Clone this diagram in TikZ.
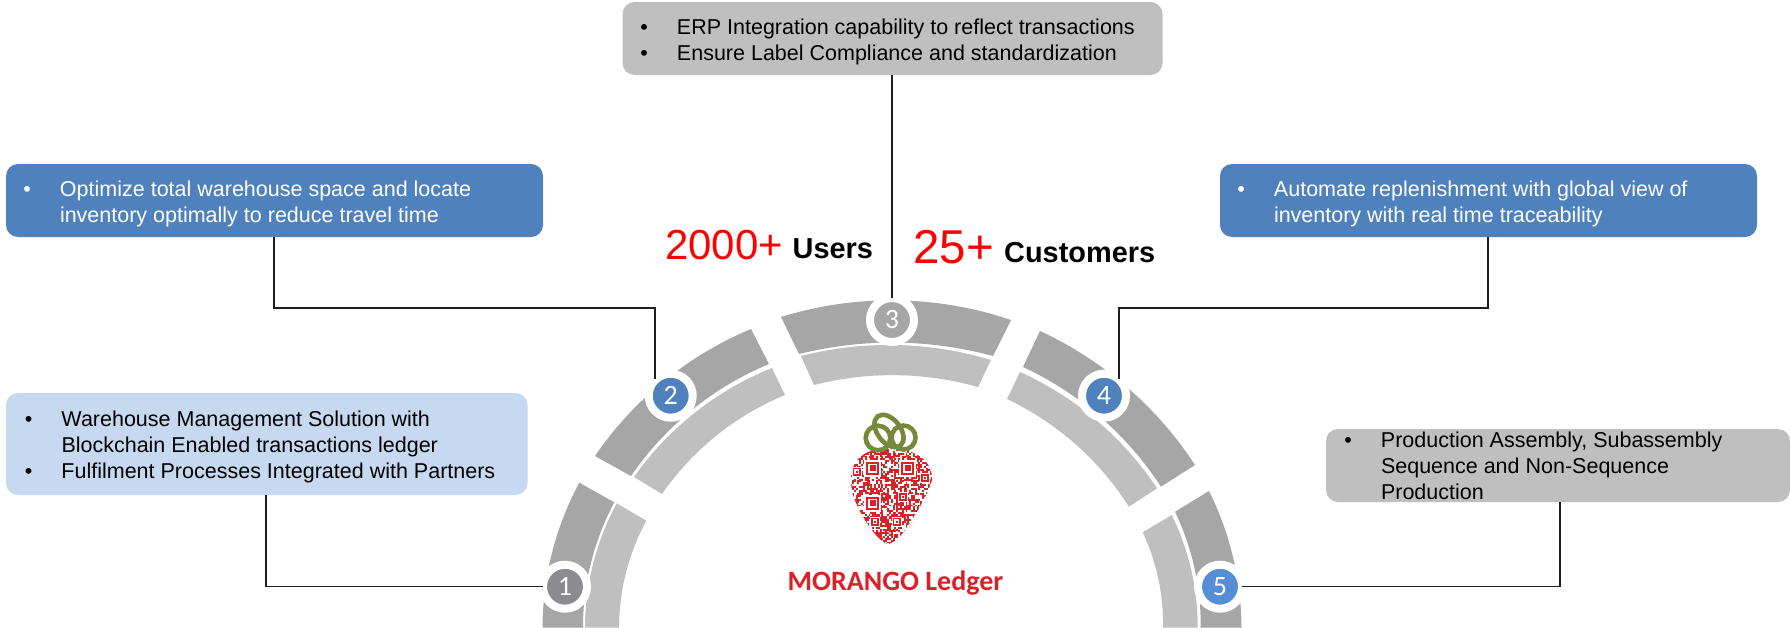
\documentclass[tikz,border=0pt]{standalone}
\usepackage{fontspec}
\setmainfont{Liberation Sans}
\newfontfamily\carl{Carlito}
\definecolor{segdark}{HTML}{A6A6A6}
\definecolor{seglight}{HTML}{BFBFBF}
\definecolor{bluebox}{HTML}{4F81BD}
\definecolor{paleblue}{HTML}{C6D9F1}
\definecolor{greybox}{HTML}{BFBFBF}
\definecolor{numone}{HTML}{8C8B92}
\definecolor{numfive}{HTML}{558ED5}
\definecolor{logored}{HTML}{DB2128}
\definecolor{olive}{HTML}{76883A}
\newcommand{\seg}[7]{\fill[#1] #2 to[bend left=#6,looseness=.87] #3 -- #4 to[bend right=#7,looseness=.87] #5 -- cycle;}
\newcommand{\bul}{\llap{•\hspace{29pt}}}
\newcommand{\finder}[2]{%
  \fill[white] (#1-8.6,#2-8.6) rectangle (#1+8.6,#2+8.6);
  \draw[logored,line width=1.9] (#1-5.6,#2-5.6) rectangle (#1+5.6,#2+5.6);
  \fill[logored] (#1-2.9,#2-2.9) rectangle (#1+2.9,#2+2.9);}
\newcommand{\smallring}[2]{%
  \fill[white] (#1-5,#2-5) rectangle (#1+5,#2+5);
  \draw[logored,line width=1.8] (#1-3.2,#2-3.2) rectangle (#1+3.2,#2+3.2);
  \fill[logored] (#1-1,#2-1) rectangle (#1+1,#2+1);}
\tikzset{
  boxnode/.style={rounded corners=12pt,inner sep=0pt,outer sep=0pt},
  txt/.style={anchor=base west,inner sep=0pt,outer sep=0pt,align=left,font=\fontsize{21.5}{25.9}\selectfont},
  numnode/.style={circle,draw=white,line width=8pt,minimum size=44pt,inner sep=0pt,outer sep=0pt,text=white,font=\carl\fontsize{28}{28}\selectfont},
  conn/.style={line width=1.2pt,draw=black!88},
  shortfar/.style={shorten >=22pt},
  shortnear/.style={shorten >=16.7pt},
  bigred/.style={anchor=base west,inner sep=0pt,text=red},
  boldblack/.style={anchor=base west,inner sep=0pt,font=\bfseries\fontsize{28.9}{30}\selectfont},
}
\begin{document}
\begin{tikzpicture}[x=1pt,y=-1pt]
\useasboundingbox (0,0) rectangle (1791,627);
% dark outer segments
\seg{segdark}{(542.5,627.5)}{(579.3,482.7)}{(614.3,502.3)}{(583,627.5)}{14}{14}
\seg{segdark}{(595,456)}{(751,329)}{(769,364)}{(631,476)}{16.5}{16.5}
\seg{segdark}{(781,317)}{(1011,320)}{(993,356)}{(799,354)}{18}{14.5}
\seg{segdark}{(1040,331)}{(1195,465)}{(1161,486.7)}{(1023,367)}{16}{16}
\seg{segdark}{(1209,491)}{(1241.5,627.5)}{(1200.7,627.5)}{(1175,511.7)}{13}{13}
% light inner segments
\seg{seglight}{(585,627.5)}{(616.7,503.3)}{(646.3,520.7)}{(619,627.5)}{14}{14}
\seg{seglight}{(634,477)}{(772,368)}{(785,395)}{(662,494)}{16.5}{16.5}
\seg{seglight}{(801,356)}{(991,360)}{(978,387)}{(814,385)}{15.5}{15}
\seg{seglight}{(1020,372)}{(1157,488.3)}{(1129,506.7)}{(1007,399)}{16}{16}
\seg{seglight}{(1171.7,515)}{(1197.7,627.5)}{(1163,627.5)}{(1142.7,532.3)}{13}{13}
% boxes
\node[boxnode,fill=bluebox,minimum width=537pt,minimum height=73pt] (b2) at (274.5,200.5) {};
\node[boxnode,fill=paleblue,minimum width=521.5pt,minimum height=102pt] (b1) at (266.75,444) {};
\node[boxnode,fill=greybox,minimum width=540pt,minimum height=73pt] (b3) at (892.5,38.5) {};
\node[boxnode,fill=bluebox,minimum width=537pt,minimum height=73pt] (b4) at (1488.5,200.5) {};
\node[boxnode,fill=greybox,minimum width=464pt,minimum height=73pt] (b5) at (1558,465.5) {};
% numbered circles
\node[numnode,fill=numone] (c1) at (565,586.7) {1};
\node[numnode,fill=bluebox] (c2) at (670.7,395.7) {2};
\node[numnode,fill=segdark] (c3) at (892,320) {3};
\node[numnode,fill=bluebox] (c4) at (1104,395.7) {4};
\node[numnode,fill=numfive] (c5) at (1220,586.7) {5};
% connectors
\coordinate (k1) at (266,586.7);
\coordinate (k2) at (274,308);
\coordinate (k4) at (1488,308);
\coordinate (k5) at (1560,586.7);
\coordinate (e2) at (655,395.7);
\coordinate (e4) at (1119,395.7);
\draw[conn,shortfar] (k1 |- b1.south) -- (k1) -- (c1.center);
\draw[conn,shortnear] (k2 |- b2.south) -- (k2) -- (k2 -| e2) -- (e2);
\draw[conn,shortfar] (c3.center |- b3.south) -- (c3.center);
\draw[conn,shortnear] (k4 |- b4.south) -- (k4) -- (k4 -| e4) -- (e4);
\draw[conn,shortfar] (k5 |- b5.south) -- (k5) -- (c5.center);
% box texts
\node[txt,text=white] (t2) at (60,222) {\bul Optimize total warehouse space and locate\\inventory optimally to reduce travel time};
\node[txt] (t1) at (61.5,478.5) {\bul Warehouse Management Solution with\\Blockchain Enabled transactions ledger\\\bul Fulfilment Processes Integrated with Partners};
\node[txt] (t3) at (677,60.5) {\bul ERP Integration capability to reflect transactions\\\bul Ensure Label Compliance and standardization};
\node[txt,text=white] (t4) at (1274,222) {\bul Automate replenishment with global view of\\inventory with real time traceability};
\node[txt] (t5) at (1381,499.5) {\bul Production Assembly, Subassembly\\Sequence and Non-Sequence\\Production};
% figures
\node[bigred,font=\fontsize{42}{44}\selectfont] (n2000) at (665,259) {2000+};
\node[boldblack] (users) at (792.5,258.7) {Users};
\node[bigred,font=\fontsize{47.5}{48}\selectfont] (n25) at (913,263) {25+};
\node[boldblack] (cust) at (1004,262.7) {Customers};
\node[anchor=base,inner sep=0pt,text=logored,font=\carl\bfseries\fontsize{28}{30}\selectfont] (ledger) at (895.5,590) {MORANGO Ledger};
% strawberry
\begin{scope}
\clip plot[smooth cycle] coordinates {(868,452) (855,463) (851,478) (853,495) (862,515) (875,534) (888,544) (901,535) (915,515) (926,495) (932,478) (927,463) (912,452) (890,449)};
\pgfmathsetseed{11}
\foreach \i in {0,...,44}{\foreach \j in {0,...,52}{%
  \pgfmathparse{rnd<0.55?1:0}%
  \ifnum\pgfmathresult=1 \fill[logored] ({850+\i*1.85},{449+\j*1.85}) rectangle +(1.95,1.95);\fi}}
\end{scope}
\finder{872.7}{468.3}
\finder{907.7}{468.3}
\finder{872.7}{503.3}
\smallring{903}{497}
\smallring{875}{521.7}
\smallring{896.7}{521.7}
\smallring{856.7}{471.7}
\smallring{925}{478}
% chain links
\draw[olive,line width=4.6pt] (878,438) circle[radius=12.3];
\draw[olive,line width=4.6pt] (903.5,437.5) circle[radius=12];
\draw[olive,line width=4.6pt,rotate around={-52:(889,431)}] (889,431) ellipse[x radius=18.5,y radius=11.5];
\end{tikzpicture}
\end{document}
